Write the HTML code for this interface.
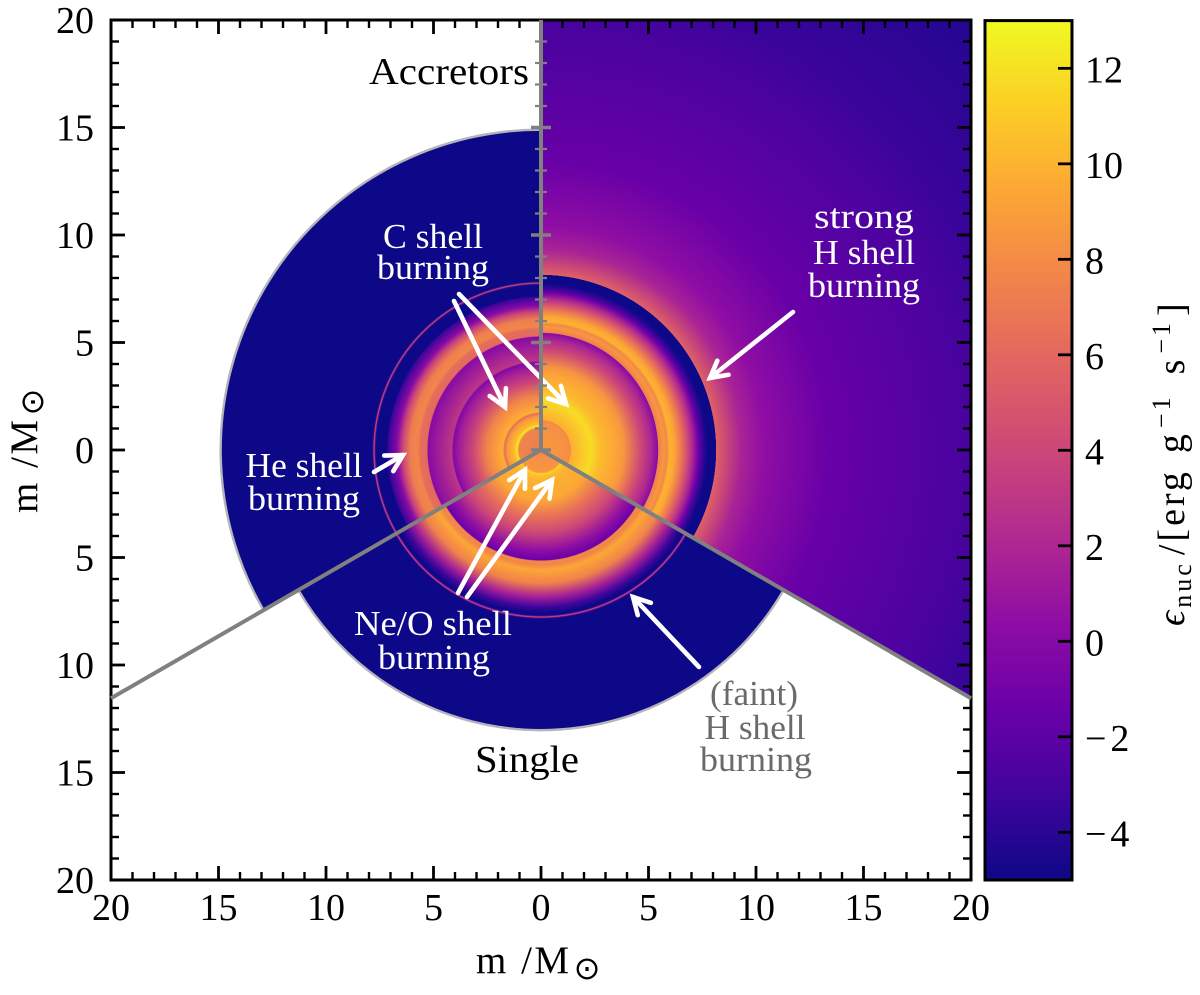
<!DOCTYPE html>
<html>
<head>
<meta charset="utf-8">
<title>Nuclear energy generation in accretor and single stars</title>
<style>
html,body{margin:0;padding:0;background:#fff;}
svg{display:block;}
text{font-family:"Liberation Serif","DejaVu Serif",serif;}
.ann{fill:#fff;font-size:35px;text-anchor:middle;}
.gray{fill:#6a6a6a;}
.blk{fill:#000;font-size:38px;text-anchor:middle;}
.tick{fill:#000;font-size:38px;}
.arrow{stroke:#fff;stroke-width:4.6;stroke-linecap:round;fill:none;marker-end:url(#arrow-head);}
</style>
</head>
<body>
<svg id="chart" xmlns="http://www.w3.org/2000/svg" width="1200" height="995" viewBox="0 0 1200 995">
  <defs id="defs">
    <marker id="arrow-head" markerUnits="userSpaceOnUse" markerWidth="30" markerHeight="30" refX="21" refY="12" orient="auto" overflow="visible">
      <path d="M4.5,3 L21,12 L4.5,21" fill="none" stroke="#fff" stroke-width="4.6" stroke-linecap="round" stroke-linejoin="miter"/>
    </marker>
  </defs>
  <g id="sectors"></g>
  <g id="arrows">
    <line class="arrow" x1="454" y1="301" x2="505" y2="407"/>
    <line class="arrow" x1="459" y1="294" x2="566" y2="404"/>
    <line class="arrow" x1="793" y1="312" x2="710" y2="378"/>
    <line class="arrow" x1="374" y1="472" x2="403" y2="455"/>
    <line class="arrow" x1="458" y1="593" x2="525" y2="470"/>
    <line class="arrow" x1="467" y1="597" x2="552" y2="480"/>
    <line class="arrow" x1="699" y1="667" x2="633" y2="597"/>
  </g>
  <g id="axes"></g>
  <g id="dividers"></g>
  <g id="labels">
    <text class="blk" x="449" y="84" textLength="160" lengthAdjust="spacingAndGlyphs">Accretors</text>
    <text class="blk" x="527" y="772" textLength="104" lengthAdjust="spacingAndGlyphs">Single</text>
    <text class="ann" x="433" y="248" textLength="100" lengthAdjust="spacingAndGlyphs">C shell</text>
    <text class="ann" x="433" y="279" textLength="112" lengthAdjust="spacingAndGlyphs">burning</text>
    <text class="ann" x="864" y="228" textLength="100" lengthAdjust="spacingAndGlyphs">strong</text>
    <text class="ann" x="864" y="264" textLength="102" lengthAdjust="spacingAndGlyphs">H shell</text>
    <text class="ann" x="864" y="297" textLength="112" lengthAdjust="spacingAndGlyphs">burning</text>
    <text class="ann" x="304" y="477" textLength="117" lengthAdjust="spacingAndGlyphs">He shell</text>
    <text class="ann" x="304" y="510" textLength="112" lengthAdjust="spacingAndGlyphs">burning</text>
    <text class="ann" x="433" y="635" textLength="158" lengthAdjust="spacingAndGlyphs">Ne/O shell</text>
    <text class="ann" x="434" y="669" textLength="112" lengthAdjust="spacingAndGlyphs">burning</text>
    <text class="ann gray" x="754" y="705" textLength="88" lengthAdjust="spacingAndGlyphs">(faint)</text>
    <text class="ann gray" x="755" y="739" textLength="101" lengthAdjust="spacingAndGlyphs">H shell</text>
    <text class="ann gray" x="756" y="771" textLength="112" lengthAdjust="spacingAndGlyphs">burning</text>
  </g>
  <g id="colorbar"></g>
  <text x="476" y="973" font-size="39" letter-spacing="2.5" fill="#000">m /M<tspan dy="6" dx="2" font-size="32" font-family="DejaVu Sans, sans-serif">⊙</tspan></text>
  <text transform="translate(37,513) rotate(-90)" font-size="39" letter-spacing="2.5" fill="#000">m /M<tspan dy="6" dx="2" font-size="32" font-family="DejaVu Sans, sans-serif">⊙</tspan></text>
  <text transform="translate(1184,626) rotate(-90)" font-size="38" letter-spacing="3" fill="#000"><tspan font-style="italic">ϵ</tspan><tspan dy="7" font-size="26">nuc</tspan><tspan dy="-7" dx="6">/[erg</tspan><tspan dx="16">g</tspan><tspan dy="-14" dx="3" font-size="26">−1</tspan><tspan dy="14" dx="20">s</tspan><tspan dy="-14" dx="3" font-size="26">−1</tspan><tspan dy="14" dx="4">]</tspan></text>
</svg>
<script>
// ---- chart data: radius (Msun) and log10 epsilon_nuc profile of each sector ----
const accretorRightRadius = [0,1.30,1.38,1.40,2.33,2.79,3.40,3.86,4.65,5.12,5.44,5.46,5.72,5.86,5.95,5.97,6.20,6.51,6.84,7.05,7.30,7.44,7.67,7.75,8.14,8.15,9.30,10.4,13.4,20.0,21.7,28.2];
const accretorRightEps    = [8.8,8.2,7.8,9.8,11.8,10.3,9.5,8.5,4.0,2.0,0.0,7.4,8.6,7.8,9.4,10,9.4,7.0,4.0,2.0,-1.0,-2.7,-4.5,-5,-5,5.6,1.8,0.4,-1.5,-2.9,-3.4,-4.2];
const accretorLeftRadius  = [0,1.02,1.12,1.21,1.40,1.58,1.67,1.72,1.77,1.91,2.51,3.16,3.77,4.09,4.14,5.26,5.30,5.63,5.72,5.86,6.09,6.42,6.70,7.12,7.16,7.66,7.70,7.77,7.82,7.86,14.9];
const accretorLeftEps     = [7.2,7.6,12.5,10.5,9.5,8.6,6.6,7.0,9.8,9.4,7.6,4.0,1.5,-0.3,3.0,0.0,6.0,6.4,7.6,7.6,7.2,4.0,0.0,-3.5,-5,-5,-4,4.5,-4,-5,-5];
const singleRadius        = [0,1.02,1.12,1.21,1.40,2.33,3.12,3.86,4.65,5.02,5.12,5.16,5.26,5.30,5.58,6.19,6.84,7.30,7.58,7.68,7.71,7.77,7.82,7.86,13.03];
const singleEps           = [8.0,8.5,11.5,10.5,10.0,9.4,6.5,4.0,0.5,-1.0,-1.5,7.5,8.0,7.5,9.4,7.5,1.5,-3.2,-5,-5,-3,4.5,-3,-5,-5];

const xTickValues = [-20,-15,-10,-5,0,5,10,15,20];
const yTickValues = [20,15,10,5,0,-5,-10,-15,-20];
const colorbarTicks = [12,10,8,6,4,2,0,-2,-4];
const colormapAnchors = ['#0d0887','#41049d','#6a00a8','#8f0da4','#b12a90','#cc4778','#e16462','#f1844b','#fca636','#fcce25','#f0f921'];

// ---- axis functions ----
const PX_PER_MSUN = 21.5, CX = 541, CY = 450;
const EPS_MIN = -5, EPS_MAX = 13, CB_TOP = 20.6, CB_BOTTOM = 880, CB_LEFT = 985, CB_RIGHT = 1072;
const xPx = m => CX + m * PX_PER_MSUN;
const yPx = m => CY - m * PX_PER_MSUN;
const rPx = m => m * PX_PER_MSUN;
const epsPx = v => CB_BOTTOM - (v - EPS_MIN) / (EPS_MAX - EPS_MIN) * (CB_BOTTOM - CB_TOP);
const DIV_ANGLE = 30 * Math.PI / 180;
const NS = 'http://www.w3.org/2000/svg';

function make(parent, tag, attrs) {
  const el = document.createElementNS(NS, tag);
  for (const k in attrs) el.setAttribute(k, attrs[k]);
  parent.appendChild(el);
  return el;
}
function hexToRgb(h) {
  return [parseInt(h.slice(1,3),16), parseInt(h.slice(3,5),16), parseInt(h.slice(5,7),16)];
}
function plasma(v) {
  let t = (v - EPS_MIN) / (EPS_MAX - EPS_MIN);
  t = Math.max(0, Math.min(1, t)) * (colormapAnchors.length - 1);
  const i = Math.min(Math.floor(t), colormapAnchors.length - 2), f = t - i;
  const a = hexToRgb(colormapAnchors[i]), b = hexToRgb(colormapAnchors[i + 1]);
  return 'rgb(' + a.map((c, k) => Math.round(c + (b[k] - c) * f)).join(',') + ')';
}

// ---- sectors: radial gradients whose stops come from the profile arrays ----
const defs = document.getElementById('defs');
const sectors = document.getElementById('sectors');

function radialFill(id, radius, eps) {
  const rMax = radius[radius.length - 1];
  const g = make(defs, 'radialGradient', {id: id, gradientUnits: 'userSpaceOnUse', cx: CX, cy: CY, r: rPx(rMax)});
  radius.forEach((r, i) => {
    make(g, 'stop', {offset: r / rMax, 'stop-color': plasma(eps[i])});
  });
  return 'url(#' + id + ')';
}

const xEdge = 20, yEdge = 20;
const rightSector = make(sectors, 'path', {
  d: 'M' + xPx(0) + ',' + yPx(0) + ' L' + xPx(0) + ',' + yPx(yEdge) + ' L' + xPx(xEdge) + ',' + yPx(yEdge) +
     ' L' + xPx(xEdge) + ',' + yPx(-xEdge * Math.tan(DIV_ANGLE)) + ' Z',
  fill: radialFill('grad-right', accretorRightRadius, accretorRightEps)
});



function arcPoint(r, deg) {
  const a = deg * Math.PI / 180;
  return [xPx(r * Math.cos(a)), yPx(r * Math.sin(a))];
}
function wedge(r, a0, a1) {
  const p0 = arcPoint(r, a0), p1 = arcPoint(r, a1);
  return 'M' + CX + ',' + CY + ' L' + p0[0] + ',' + p0[1] + ' A' + rPx(r) + ',' + rPx(r) + ' 0 0 0 ' + p1[0] + ',' + p1[1] + ' Z';
}
function arc(r, a0, a1) {
  const p0 = arcPoint(r, a0), p1 = arcPoint(r, a1);
  return 'M' + p0[0] + ',' + p0[1] + ' A' + rPx(r) + ',' + rPx(r) + ' 0 0 0 ' + p1[0] + ',' + p1[1];
}

const leftR = accretorLeftRadius[accretorLeftRadius.length - 1];
const leftSector = make(sectors, 'path', {d: wedge(leftR, 90, 210), fill: radialFill('grad-left', accretorLeftRadius, accretorLeftEps)});



const singleR = singleRadius[singleRadius.length - 1];
const singleSector = make(sectors, 'path', {d: wedge(singleR, 210, 330), fill: radialFill('grad-single', singleRadius, singleEps)});



const edgeLeft = make(sectors, 'path', {d: arc(leftR, 90, 210), fill: 'none', stroke: '#b4b4bc', 'stroke-width': 2.4});


const edgeSingle = make(sectors, 'path', {d: arc(singleR, 210, 330), fill: 'none', stroke: '#b4b4bc', 'stroke-width': 2.4});



// ---- axes ----
const axes = document.getElementById('axes');
const frame = make(axes, 'rect', {x: xPx(-20), y: yPx(20), width: xPx(20) - xPx(-20), height: yPx(-20) - yPx(20), fill: 'none', stroke: '#000', 'stroke-width': 3});



function tickLine(parent, x1, y1, x2, y2, major, name) {
  const t = make(parent, 'line', {x1: x1, y1: y1, x2: x2, y2: y2, stroke: '#000', 'stroke-width': major ? 2.8 : 2.4});
  
  
}
for (let m = -20; m <= 20; m++) {
  const major = m % 5 === 0, len = major ? 14 : 8;
  if (Math.abs(m) === 20) continue;
  tickLine(axes, xPx(m), yPx(-20), xPx(m), yPx(-20) - len, major, 'x-tick-bottom');
  tickLine(axes, xPx(m), yPx(20), xPx(m), yPx(20) + len, major, 'x-tick-top');
  tickLine(axes, xPx(-20), yPx(m), xPx(-20) + len, yPx(m), major, 'y-tick-left');
  tickLine(axes, xPx(20), yPx(m), xPx(20) - len, yPx(m), major, 'y-tick-right');
}
xTickValues.forEach(v => {
  const t = make(axes, 'text', {class: 'tick', x: xPx(v), y: 920, 'text-anchor': 'middle'});
  
  
  t.textContent = Math.abs(v);
});
yTickValues.forEach(v => {
  const t = make(axes, 'text', {class: 'tick', x: 94, y: yPx(v) + 13, 'text-anchor': 'end'});
  
  
  t.textContent = Math.abs(v);
});

// ---- dividers (drawn over the frame ticks) ----
const dividers = document.getElementById('dividers');
const endY = -xEdge * Math.tan(DIV_ANGLE);
const divUp = make(dividers, 'line', {x1: xPx(0), y1: yPx(0), x2: xPx(0), y2: yPx(yEdge), stroke: '#808080', 'stroke-width': 4});


const divLeft = make(dividers, 'line', {x1: xPx(0), y1: yPx(0), x2: xPx(-xEdge), y2: yPx(endY), stroke: '#808080', 'stroke-width': 4});


const divRight = make(dividers, 'line', {x1: xPx(0), y1: yPx(0), x2: xPx(xEdge), y2: yPx(endY), stroke: '#808080', 'stroke-width': 4});


for (let m = 0; m < yEdge; m++) {
  const major = m % 5 === 0, half = major ? 10 : 6;
  const dt = make(dividers, 'line', {x1: xPx(0) - half, y1: yPx(m), x2: xPx(0) + half, y2: yPx(m), stroke: '#808080', 'stroke-width': major ? 3.4 : 2.2});
  
  
}

// ---- colorbar ----
const cb = document.getElementById('colorbar');
const lg = make(defs, 'linearGradient', {id: 'grad-cb', x1: 0, y1: 1, x2: 0, y2: 0});
colormapAnchors.forEach((c, i) => {
  make(lg, 'stop', {offset: i / (colormapAnchors.length - 1), 'stop-color': c});
});
const cbRect = make(cb, 'rect', {x: CB_LEFT, y: CB_TOP, width: CB_RIGHT - CB_LEFT, height: CB_BOTTOM - CB_TOP, fill: 'url(#grad-cb)', stroke: '#000', 'stroke-width': 3});


colorbarTicks.forEach(v => {
  tickLine(cb, CB_RIGHT - 14, epsPx(v), CB_RIGHT, epsPx(v), true, 'colorbar-tick');
  const t = make(cb, 'text', {class: 'tick', x: 1085, y: epsPx(v) + 14});
  
  
  t.textContent = v < 0 ? '\u2212' + Math.abs(v) : String(v);
  if (v < 0) t.setAttribute('letter-spacing', '4');
});
</script>
</body>
</html>
